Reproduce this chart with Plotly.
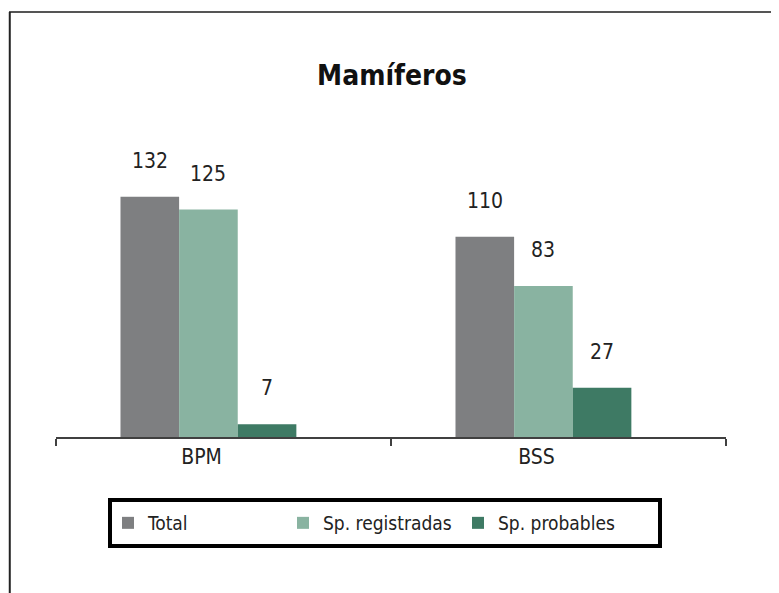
import plotly.graph_objects as go

categories = ["BPM", "BSS"]
series_names = ["Total", "Sp. registradas", "Sp. probables"]
total = [132, 110]
registradas = [125, 83]
probables = [7, 27]
colors = ["#7e7f81", "#89b3a1", "#3e7a64"]

FONT = "DejaVu Sans Condensed, Liberation Sans Narrow, Arial Narrow, sans-serif"
BARGAP = 0.475
SHIFT = -0.045  # small leftward shift of each bar group within its category

fig = go.Figure()
values = [total, registradas, probables]
n = len(series_names)
w = (1 - BARGAP) / n
for i, (name, vals, col) in enumerate(zip(series_names, values, colors)):
    off = -n * w / 2 + i * w + SHIFT
    fig.add_trace(go.Bar(name=name, x=categories, y=vals, width=w, offset=off,
                         marker=dict(color=col, line=dict(width=0))))
    for j, v in enumerate(vals):
        fig.add_annotation(x=j + off + w / 2, y=v, text=str(v), showarrow=False,
                           yanchor="bottom", yshift=22,
                           font=dict(family=FONT, size=21, color="#222222"))

fig.update_layout(
    width=771, height=585,
    paper_bgcolor="white", plot_bgcolor="white",
    margin=dict(l=48, r=53, t=156, b=156),
    barmode="group", bargap=BARGAP, bargroupgap=0,
    title=dict(text="<b>Mamíferos</b>", x=0.498, xanchor="center", y=1 - 67 / 585,
               yanchor="middle", yref="container",
               font=dict(family=FONT, size=28, color="#111111")),
    xaxis=dict(range=[-0.5, 1.5], showline=True, linecolor="#404040", linewidth=2,
               ticks="outside", tickson="boundaries", ticklen=7, tickwidth=2,
               tickcolor="#404040", showgrid=False, ticklabelshift=-22,
               tickfont=dict(family=FONT, size=21, color="#222222")),
    yaxis=dict(range=[0, 150], visible=False, showgrid=False, zeroline=False),
    showlegend=True,
    legend=dict(orientation="h", x=0.0776, xanchor="left", y=-0.315, yanchor="middle",
                borderwidth=0, bgcolor="rgba(0,0,0,0)",
                entrywidth=130, entrywidthmode="pixels", itemwidth=30,
                font=dict(family=FONT, size=19, color="#222222"),
                itemsizing="constant"),
    shapes=[
        dict(type="line", xref="paper", yref="paper", x0=-0.0701, x1=1.2, y0=1.5568, y1=1.5568,
             line=dict(color="#555555", width=2)),
        dict(type="line", xref="paper", yref="paper", x0=-0.069, x1=-0.069, y0=1.5568, y1=-0.7,
             line=dict(color="#222222", width=2)),
        dict(type="rect", xref="paper", yref="paper",
             x0=(110 - 56) / 670, x1=(660 - 56) / 670,
             y0=(437 - 546) / 273, y1=(437 - 500) / 273,
             line=dict(color="#000000", width=4)),
    ],
)

fig.write_html("out.html")
